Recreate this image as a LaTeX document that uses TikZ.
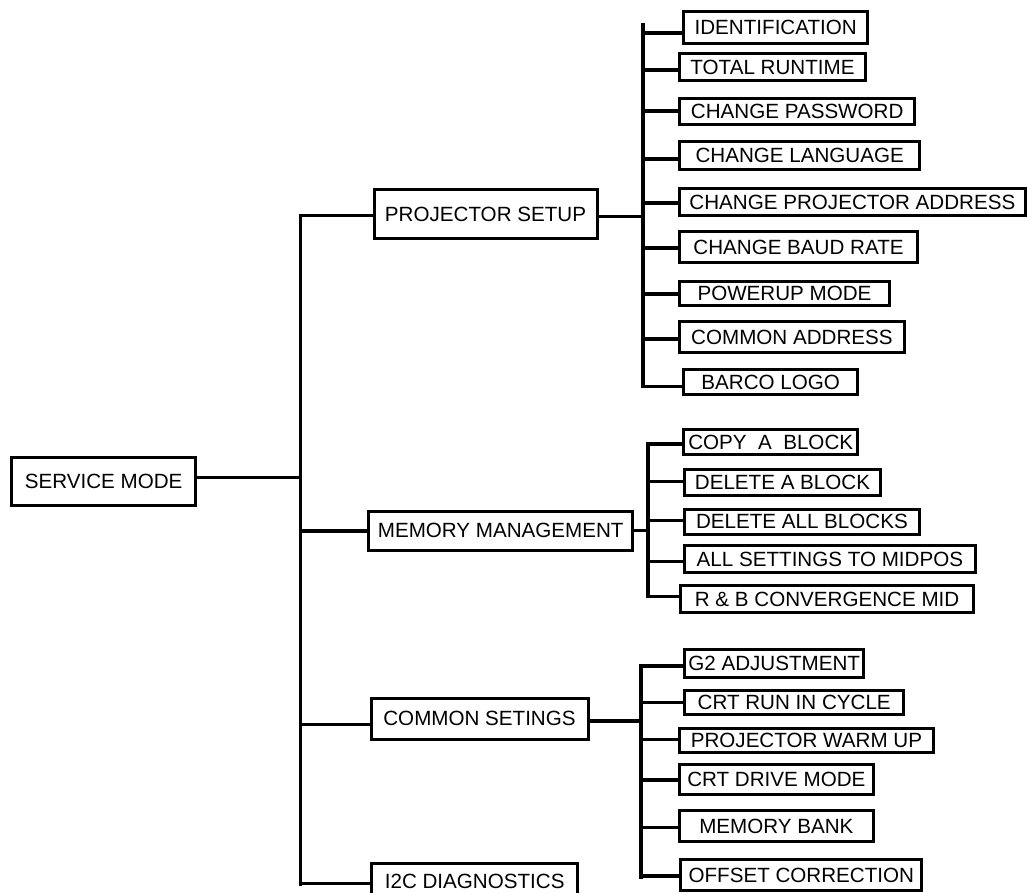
\documentclass[tikz,border=0pt]{standalone}
\usepackage{fontspec}
\setmainfont{Liberation Sans}
\begin{document}
\begin{tikzpicture}[x=1pt,y=-1pt,
  box/.style={draw, line width=3pt, inner sep=0pt, font=\fontsize{20.6}{24}\selectfont},
  conn/.style={line width=3.2pt, line cap=rect}]
\useasboundingbox (0,0) rectangle (1027,893);
% level 0 and 1
\node[box, minimum width=184.5pt, minimum height=48.5pt] (sm) at (103.7,481.7) {SERVICE MODE};
\node[box, minimum width=223pt, minimum height=48.5pt] (ps) at (485.5,214.2) {PROJECTOR SETUP};
\node[box, minimum width=263.5pt, minimum height=39pt] (mm) at (500.7,530.5) {MEMORY MANAGEMENT};
\node[box, minimum width=217pt, minimum height=41pt] (cs) at (479.5,718.5) {COMMON SETINGS};
\node[box, minimum width=205.5pt, minimum height=37pt] (i2c) at (474.7,881.5) {I2C DIAGNOSTICS};
% projector setup children
\node[box, minimum width=183.5pt, minimum height=32.5pt] (id) at (775.7,27.7) {IDENTIFICATION};
\node[box, minimum width=186pt, minimum height=27pt] (tr) at (772.5,67.5) {TOTAL RUNTIME};
\node[box, minimum width=235.5pt, minimum height=26.5pt] (cp) at (797.2,111.7) {CHANGE PASSWORD};
\node[box, minimum width=240.5pt, minimum height=28.5pt] (cl) at (799.7,155.7) {CHANGE LANGUAGE};
\node[box, minimum width=345.8pt, minimum height=27pt] (cpa) at (852.4,202) {CHANGE PROJECTOR ADDRESS};
\node[box, minimum width=238pt, minimum height=31pt] (cbr) at (798.5,247) {CHANGE BAUD RATE};
\node[box, minimum width=210pt, minimum height=24pt] (pm) at (784.5,293.5) {POWERUP MODE};
\node[box, minimum width=224.7pt, minimum height=31pt] (ca) at (791.9,337) {COMMON ADDRESS};
\node[box, minimum width=173.5pt, minimum height=25pt] (bl) at (770.7,382) {BARCO LOGO};
% memory management children
\node[box, minimum width=173.5pt, minimum height=25.5pt] (cab) at (770.7,442.2) {COPY\ \ A\ \ BLOCK};
\node[box, minimum width=196pt, minimum height=26pt] (dab) at (782.5,482) {DELETE A BLOCK};
\node[box, minimum width=234.7pt, minimum height=25pt] (dalb) at (801.9,521.5) {DELETE ALL BLOCKS};
\node[box, minimum width=290.7pt, minimum height=27.5pt] (astm) at (829.9,559.2) {ALL SETTINGS TO MIDPOS};
\node[box, minimum width=292.7pt, minimum height=27pt] (rbc) at (827.1,599) {R \& B CONVERGENCE MID};
% common settings children
\node[box, minimum width=178.7pt, minimum height=28pt] (g2) at (774.2,663.8) {G2 ADJUSTMENT};
\node[box, minimum width=218.7pt, minimum height=24pt] (crc) at (794.2,702.5) {CRT RUN IN CYCLE};
\node[box, minimum width=254.3pt, minimum height=24.6pt] (pwu) at (806.4,740.5) {PROJECTOR WARM UP};
\node[box, minimum width=194.3pt, minimum height=29.7pt] (cdm) at (776.4,779.7) {CRT DRIVE MODE};
\node[box, minimum width=194.3pt, minimum height=30.4pt] (mb) at (776.4,826) {MEMORY BANK};
\node[box, minimum width=241pt, minimum height=31pt] (oc) at (801.3,875.3) {OFFSET CORRECTION};
% bus coordinates
\coordinate (mainT) at (300.5,215.7);
\coordinate (mainB) at (300.5,884.5);
\coordinate (busPT) at (643,25);
\coordinate (busPB) at (643,386.7);
\coordinate (busMT) at (648,444);
\coordinate (busMB) at (648,596.7);
\coordinate (busCT) at (641,666);
\coordinate (busCB) at (641,877);
\draw[conn] (mainT) -- (mainB);
\draw[conn] (busPT) -- (busPB);
\draw[conn] (busMT) -- (busMB);
\draw[conn] (busCT) -- (busCB);
% level connectors
\newcommand{\hbranch}[3]{\draw[conn] (#1 |- 0,#2) -- (#3 |- 0,#2);}
\hbranch{sm.east}{477.7}{mainT}
\hbranch{mainT}{215.7}{ps.west}
\hbranch{mainT}{531}{mm.west}
\hbranch{mainT}{724.3}{cs.west}
\hbranch{mainT}{883.3}{i2c.west}
\hbranch{ps.east}{216.7}{busPT}
\hbranch{mm.east}{530.7}{busMT}
\hbranch{cs.east}{721}{busCT}
% projector branches
\hbranch{busPT}{33}{id.west}
\hbranch{busPT}{70}{tr.west}
\hbranch{busPT}{111}{cp.west}
\hbranch{busPT}{159}{cl.west}
\hbranch{busPT}{203}{cpa.west}
\hbranch{busPT}{248}{cbr.west}
\hbranch{busPT}{294}{pm.west}
\hbranch{busPT}{339}{ca.west}
\hbranch{busPT}{386.7}{bl.west}
% memory branches
\hbranch{busMT}{444}{cab.west}
\hbranch{busMT}{481.7}{dab.west}
\hbranch{busMT}{520.7}{dalb.west}
\hbranch{busMT}{561.7}{astm.west}
\hbranch{busMT}{596.7}{rbc.west}
% common settings branches
\hbranch{busCT}{666}{g2.west}
\hbranch{busCT}{702.7}{crc.west}
\hbranch{busCT}{739.3}{pwu.west}
\hbranch{busCT}{780}{cdm.west}
\hbranch{busCT}{827.3}{mb.west}
\hbranch{busCT}{876}{oc.west}
\end{tikzpicture}
\end{document}
